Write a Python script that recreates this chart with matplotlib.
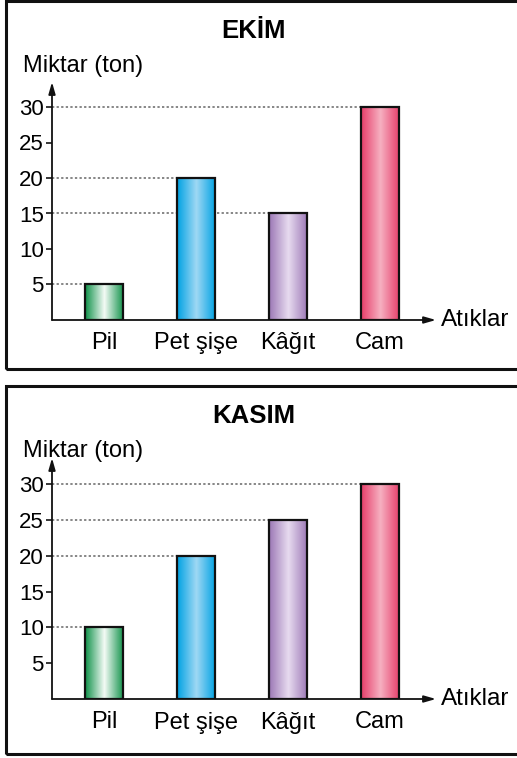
import numpy as np
import matplotlib.pyplot as plt
from matplotlib.patches import Rectangle
from matplotlib.colors import LinearSegmentedColormap

plt.rcParams['font.family'] = ['Liberation Sans', 'DejaVu Sans']

# veriler
atiklar = ['Pil', 'Pet şişe', 'Kâğıt', 'Cam']
ekim = [5, 20, 15, 30]
kasim = [10, 20, 25, 30]
y_ticks = [5, 10, 15, 20, 25, 30]

# (kenar rengi, orta renk) - degrade
renkler = [('#10924a', '#f4fbf6'), ('#00a2e3', '#9fd8f4'),
           ('#9c78b6', '#e7dbef'), ('#e63e6a', '#f6b0c1')]

W, H = 517, 758
fig = plt.figure(figsize=(W / 100, H / 100), dpi=100)


def px(x0, y0, x1, y1):
    # piksel kutusu -> figure kesri
    return [x0 / W, 1 - y1 / H, (x1 - x0) / W, (y1 - y0) / H]


def grafik(veri, baslik, ust, alt, y_ok, y_eksen, y30):
    fig.patches.append(Rectangle((6 / W, 1 - alt / H), 520 / W, (alt - ust) / H,
                                 transform=fig.transFigure, fill=False,
                                 edgecolor='#111111', linewidth=2.2))
    fig.text(254 / W, 1 - (ust + 30) / H, baslik, fontsize=18.5, fontweight='bold',
             ha='center', va='center')
    fig.text(23 / W, 1 - (ust + 65) / H, 'Miktar (ton)', fontsize=17,
             ha='left', va='center')

    ax = fig.add_axes(px(52, y_ok, 436, y_eksen))
    ppu = (y_eksen - y30) / 30.0
    ymax = (y_eksen - y_ok) / ppu
    x = np.arange(len(veri))
    w = 0.415
    xmin = -0.567

    bars = ax.bar(x, veri, width=w, facecolor='none', edgecolor='#111111',
                  linewidth=1.6, zorder=3)
    for i, (b, v) in enumerate(zip(bars, veri)):
        cmap = LinearSegmentedColormap.from_list('g', [renkler[i][0], renkler[i][1], renkler[i][0]])
        im = ax.imshow(np.linspace(0, 1, 100).reshape(1, -1), cmap=cmap,
                       extent=(i - w / 2, i + w / 2, 0, v), aspect='auto', zorder=2)
        im.set_clip_path(b)
        ax.hlines(v, xmin, i - w / 2, colors='#666666', linestyles=(0, (1.5, 1.5)),
                  linewidth=1.1, zorder=1)

    ax.set_xlim(xmin, 3.61)
    ax.set_ylim(0, ymax)
    for s in ax.spines.values():
        s.set_visible(False)
    ax.annotate('', xy=(0, 1), xytext=(0, 0), xycoords='axes fraction',
                arrowprops=dict(arrowstyle='-|>,head_length=0.7,head_width=0.2',
                                color='#111111', lw=1.3, shrinkA=0, shrinkB=0))
    ax.annotate('', xy=(1, 0), xytext=(0, 0), xycoords='axes fraction',
                arrowprops=dict(arrowstyle='-|>,head_length=0.7,head_width=0.2',
                                color='#111111', lw=1.3, shrinkA=0, shrinkB=0))
    ax.set_yticks(y_ticks)
    ax.tick_params(axis='y', length=4, width=1.1, labelsize=16, pad=2)
    ax.set_xticks(x, atiklar)
    ax.tick_params(axis='x', length=0, labelsize=17, pad=9)
    ax.text(1.012, 0, 'Atıklar', transform=ax.transAxes, fontsize=17.5,
            ha='left', va='center')
    ax.patch.set_visible(False)


grafik(ekim, 'EKİM', 1, 369, 82, 320, 107)
grafik(kasim, 'KASIM', 386, 754, 458, 699, 484)

fig.savefig('out.png', dpi=100)
